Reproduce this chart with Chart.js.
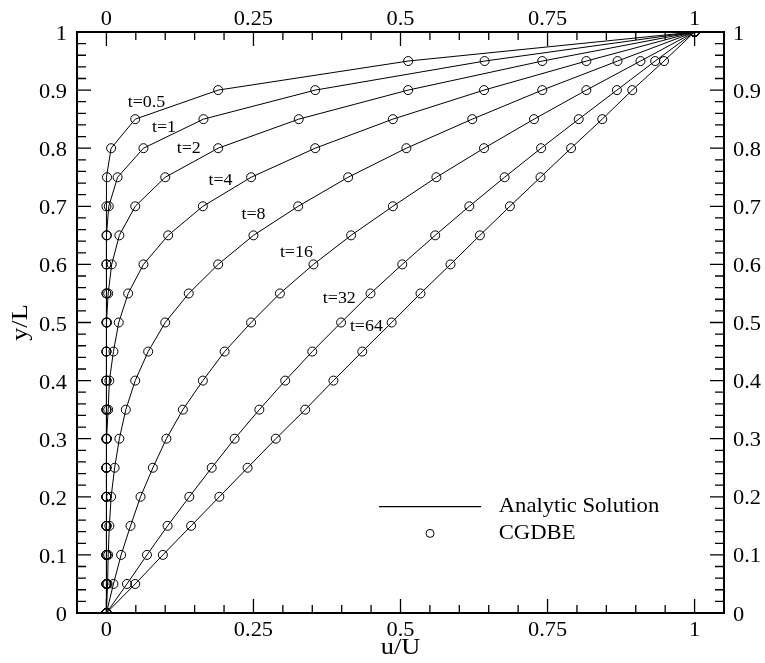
<!DOCTYPE html>
<html>
<head>
<meta charset="utf-8">
<script src="https://cdn.jsdelivr.net/npm/chart.js@4.4.1/dist/chart.umd.min.js"></script>
<style>
  html, body { margin: 0; padding: 0; background: #fff; }
  #wrap { width: 765px; height: 663px; }
</style>
</head>
<body>
<div id="wrap"><canvas id="profiles" width="765" height="663"></canvas></div>
<script>
// y/L positions shared by every profile
const yPos = [0, 0.05, 0.1, 0.15, 0.2, 0.25, 0.3, 0.35, 0.4, 0.45, 0.5,
              0.55, 0.6, 0.65, 0.7, 0.75, 0.8, 0.85, 0.9, 0.95, 1];

// u/U, one array per time
const u_t05 = [0, 0, 0, 0, 0, 0, 0, 0, 0, 0, 0, 0, 0, 0, 0, 0.001, 0.008, 0.049, 0.19, 0.513, 1];
const u_t1  = [0, 0, 0, 0, 0, 0, 0, 0, 0, 0, 0, 0, 0, 0.001, 0.004, 0.019, 0.063, 0.165, 0.355, 0.643, 1];
const u_t2  = [0, 0, 0, 0, 0, 0, 0, 0, 0, 0, 0.001, 0.003, 0.009, 0.022, 0.049, 0.1, 0.19, 0.327, 0.513, 0.741, 1];
const u_t4  = [0, 0, 0, 0, 0, 0, 0.001, 0.003, 0.005, 0.012, 0.021, 0.037, 0.063, 0.105, 0.164, 0.246, 0.355, 0.487, 0.642, 0.816, 1];
const u_t8  = [0, 0.002, 0.003, 0.005, 0.008, 0.014, 0.022, 0.033, 0.049, 0.071, 0.1, 0.14, 0.19, 0.25, 0.326, 0.411, 0.51, 0.622, 0.741, 0.869, 1];
const u_t16 = [0, 0.012, 0.025, 0.041, 0.058, 0.079, 0.102, 0.13, 0.164, 0.201, 0.246, 0.295, 0.352, 0.416, 0.487, 0.561, 0.642, 0.727, 0.816, 0.908, 1];
const u_t32 = [0, 0.035, 0.069, 0.104, 0.141, 0.179, 0.218, 0.26, 0.304, 0.35, 0.399, 0.449, 0.503, 0.559, 0.617, 0.677, 0.739, 0.803, 0.868, 0.933, 1];
const u_t64 = [0, 0.049, 0.096, 0.144, 0.192, 0.24, 0.288, 0.338, 0.386, 0.435, 0.485, 0.534, 0.585, 0.635, 0.686, 0.738, 0.79, 0.843, 0.894, 0.948, 1];

const profiles = [u_t05, u_t1, u_t2, u_t4, u_t8, u_t16, u_t32, u_t64];
const timeLabels = ["t=0.5", "t=1", "t=2", "t=4", "t=8", "t=16", "t=32", "t=64"];
// where each label sits, in u/U and y/L
const labelU = [0.068, 0.098, 0.14, 0.194, 0.25, 0.323, 0.396, 0.442];
const labelY = [0.878, 0.835, 0.799, 0.744, 0.685, 0.62, 0.54, 0.492];

const xTicksMajor = [0, 0.25, 0.5, 0.75, 1];
const legendNames = ["Analytic Solution", "CGDBE"];

const SERIF = "'Liberation Serif', 'Times New Roman', serif";

const isMultiple = (v, step) => Math.abs(v / step - Math.round(v / step)) < 1e-6;
const xLabel = (v) => xTicksMajor.some(m => Math.abs(m - v) < 1e-6) ? String(+v.toFixed(2)) : "";
const yLabel = (v) => isMultiple(v, 0.1) ? String(+v.toFixed(1)) : "";

const datasets = [];
profiles.forEach((u, i) => {
  const pts = u.map((val, k) => ({ x: val, y: yPos[k] }));
  datasets.push({
    label: "analytic " + timeLabels[i],
    data: pts,
    borderColor: "#000",
    borderWidth: 1,
    pointRadius: 0,
    showLine: true,
    fill: false,
    tension: 0,
  });
  datasets.push({
    label: "CGDBE " + timeLabels[i],
    data: pts,
    showLine: false,
    pointRadius: 4.5,
    pointBorderWidth: 1,
    pointBorderColor: "#000",
    pointBackgroundColor: "rgba(0,0,0,0)",
  });
});

// the original figure's lettering is a little wide, so text gets a horizontal stretch
function drawText(ctx, txt, x, y, opts) {
  ctx.save();
  ctx.translate(x, y);
  if (opts.rotate) ctx.rotate(opts.rotate);
  ctx.scale(opts.sx || 1, 1);
  ctx.font = opts.size + "px " + SERIF;
  ctx.textAlign = opts.align || "center";
  ctx.textBaseline = opts.baseline || "alphabetic";
  ctx.fillText(txt, 0, 0);
  ctx.restore();
}

// inward tick marks, frame, tick labels, titles, curve labels and the in-plot legend
const decorations = {
  id: "decorations",
  afterDatasetsDraw(chart) {
    const { ctx, chartArea: a, scales } = chart;
    ctx.save();
    ctx.strokeStyle = "#000";
    ctx.fillStyle = "#000";
    ctx.lineWidth = 1.3;
    ctx.beginPath();
    scales.x.ticks.forEach(t => {
      const px = scales.x.getPixelForValue(t.value);
      const len = isMultiple(t.value, 0.25) ? 14 : 8;
      ctx.moveTo(px, a.bottom); ctx.lineTo(px, a.bottom - len);
    });
    scales.x2.ticks.forEach(t => {
      const px = scales.x2.getPixelForValue(t.value);
      const len = isMultiple(t.value, 0.25) ? 14 : 8;
      ctx.moveTo(px, a.top); ctx.lineTo(px, a.top + len);
    });
    scales.y.ticks.forEach(t => {
      const py = scales.y.getPixelForValue(t.value);
      const len = isMultiple(t.value, 0.1) ? 14 : 9;
      ctx.moveTo(a.left, py); ctx.lineTo(a.left + len, py);
    });
    scales.y2.ticks.forEach(t => {
      const py = scales.y2.getPixelForValue(t.value);
      const len = isMultiple(t.value, 0.1) ? 14 : 9;
      ctx.moveTo(a.right, py); ctx.lineTo(a.right - len, py);
    });
    ctx.stroke();

    ctx.lineWidth = 2;
    ctx.strokeRect(a.left, a.top, a.right - a.left, a.bottom - a.top);

    // tick labels
    const tk = { size: 20, sx: 1.12 };
    scales.x.ticks.forEach(t => {
      const s = xLabel(t.value);
      if (s) drawText(ctx, s, scales.x.getPixelForValue(t.value), a.bottom + 23, tk);
    });
    scales.x2.ticks.forEach(t => {
      const s = xLabel(t.value);
      if (s) drawText(ctx, s, scales.x2.getPixelForValue(t.value), a.top - 7, tk);
    });
    scales.y.ticks.forEach(t => {
      const s = yLabel(t.value);
      if (s) drawText(ctx, s, a.left - 10, scales.y.getPixelForValue(t.value) + 8, { ...tk, align: "right" });
    });
    scales.y2.ticks.forEach(t => {
      const s = yLabel(t.value);
      if (s) drawText(ctx, s, a.right + 9, scales.y2.getPixelForValue(t.value) + 7.5, { ...tk, align: "left" });
    });

    // axis titles
    drawText(ctx, "u/U", (a.left + a.right) / 2, a.bottom + 41, { size: 24, sx: 1.1 });
    drawText(ctx, "y/L", 27, (a.top + a.bottom) / 2, { size: 24, sx: 1.1, rotate: -Math.PI / 2 });

    // t= labels
    timeLabels.forEach((txt, i) => {
      drawText(ctx, txt, scales.x.getPixelForValue(labelU[i]), scales.y.getPixelForValue(labelY[i]),
        { size: 16, sx: 1.12, baseline: "middle" });
    });

    // legend
    const lx0 = scales.x.getPixelForValue(0.4635);
    const lx1 = scales.x.getPixelForValue(0.637);
    const ly0 = scales.y.getPixelForValue(0.183);
    const ly1 = scales.y.getPixelForValue(0.137);
    const tx = scales.x.getPixelForValue(0.667);
    ctx.lineWidth = 1.2;
    ctx.beginPath();
    ctx.moveTo(lx0, ly0); ctx.lineTo(lx1, ly0);
    ctx.stroke();
    ctx.lineWidth = 1;
    ctx.beginPath();
    ctx.arc((lx0 + lx1) / 2, ly1, 4, 0, Math.PI * 2);
    ctx.stroke();
    drawText(ctx, legendNames[0], tx, ly0, { size: 22, sx: 1.03, align: "left", baseline: "middle" });
    drawText(ctx, legendNames[1], tx, ly1, { size: 22, sx: 1.03, align: "left", baseline: "middle" });
    ctx.restore();
  }
};

const axisBase = {
  type: "linear",
  grid: { display: false, drawTicks: false },
  border: { display: false },
};

new Chart(document.getElementById("profiles"), {
  type: "line",
  data: { datasets },
  plugins: [decorations],
  options: {
    responsive: false,
    animation: false,
    layout: { padding: 0 },
    plugins: { legend: { display: false }, tooltip: { enabled: false } },
    scales: {
      x: {
        ...axisBase, position: "bottom", min: -0.05, max: 1.05,
        ticks: { display: false, stepSize: 0.05, autoSkip: false },
        afterFit: (s) => { s.height = 50; }
      },
      x2: {
        ...axisBase, position: "top", min: -0.05, max: 1.05,
        ticks: { display: false, stepSize: 0.05, autoSkip: false },
        afterFit: (s) => { s.height = 32; }
      },
      y: {
        ...axisBase, position: "left", min: 0, max: 1,
        ticks: { display: false, stepSize: 0.02, autoSkip: false },
        afterFit: (s) => { s.width = 77; }
      },
      y2: {
        ...axisBase, position: "right", min: 0, max: 1,
        ticks: { display: false, stepSize: 0.02, autoSkip: false },
        afterFit: (s) => { s.width = 41; }
      }
    }
  }
});
</script>
</body>
</html>
